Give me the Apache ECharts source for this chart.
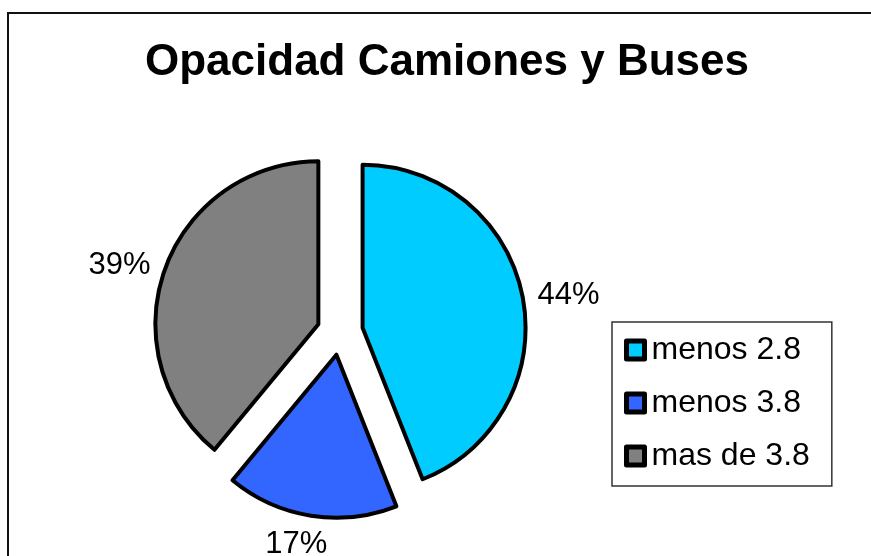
<!DOCTYPE html>
<html>
<head>
<meta charset="utf-8">
<script src="https://cdn.jsdelivr.net/npm/echarts@6/dist/echarts.min.js"></script>
<style>
  html, body { margin: 0; padding: 0; background: #fff; }
  #main { width: 871px; height: 556px; }
</style>
</head>
<body>
<div id="main"></div>
<script>
var titleText = 'Opacidad Camiones y Buses';
var categories = ['menos 2.8', 'menos 3.8', 'mas de 3.8'];
var values = [44, 17, 39];
var colors = ['#00CCFF', '#3366FF', '#808080'];

var myChart = echarts.init(document.getElementById('main'));

var pieData = [];
for (var i = 0; i < categories.length; i++) {
  var item = {
    name: categories[i],
    value: values[i],
    selected: true,
    itemStyle: { color: colors[i] }
  };
  // the bottom label sits centred under its slice
  if (i === 1) {
    item.labelLine = { length: 29, length2: -26 };
  }
  pieData.push(item);
}

var option = {
  animation: false,
  backgroundColor: '#fff',
  textStyle: { fontFamily: 'Liberation Sans, Arial, sans-serif' },
  title: {
    text: titleText,
    left: 140,
    top: 36,
    textStyle: { fontSize: 44, fontWeight: 'bold', color: '#000', fontFamily: 'Liberation Sans, Arial, sans-serif' }
  },
  graphic: [{
    type: 'rect',
    shape: { x: 8, y: 13, width: 1000, height: 1000 },
    style: { fill: 'none', stroke: '#111', lineWidth: 2 },
    silent: true
  }],
  legend: {
    orient: 'vertical',
    left: 612,
    top: 322,
    padding: [12, 22, 14, 12],
    itemGap: 21,
    itemWidth: 18,
    itemHeight: 18,
    icon: 'rect',
    backgroundColor: '#fff',
    borderColor: '#333',
    borderWidth: 1.5,
    selectedMode: false,
    data: categories,
    itemStyle: { borderColor: '#000', borderWidth: 5 },
    textStyle: { fontSize: 32, color: '#000', padding: [0, 0, 0, 2], fontFamily: 'Liberation Sans, Arial, sans-serif' }
  },
  series: [{
    type: 'pie',
    left: 0, top: 0, right: 0, bottom: -100,
    center: [340, 332],
    radius: 163,
    startAngle: 90,
    clockwise: true,
    selectedMode: 'multiple',
    selectedOffset: 23,
    avoidLabelOverlap: false,
    emphasis: { disabled: true },
    itemStyle: { borderColor: '#000', borderWidth: 4 },
    select: { itemStyle: { borderColor: '#000', borderWidth: 4 } },
    label: {
      show: true,
      position: 'outside',
      formatter: '{d}%',
      fontSize: 31,
      color: '#000',
      fontFamily: 'Liberation Sans, Arial, sans-serif'
    },
    labelLine: { show: false, length: 10, length2: 0 },
    data: pieData
  }]
};
myChart.setOption(option);
</script>
</body>
</html>
